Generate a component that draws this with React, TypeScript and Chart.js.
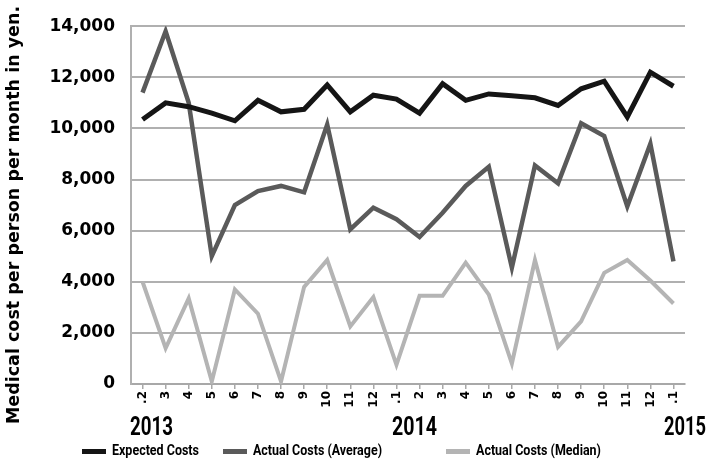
import { useEffect, useRef } from 'react';
import { Chart, registerables } from 'chart.js';
Chart.register(...registerables);

const monthLabels = ['.2', '3', '4', '5', '6', '7', '8', '9', '10', '11', '12', '.1', '2', '3', '4', '5', '6', '7', '8', '9', '10', '11', '12', '.1'];
const yearLabels = ['2013', '2014', '2015'];
const yTitle = 'Medical cost per person per month in yen.';
const seriesNames = ['Expected Costs', 'Actual Costs (Average)', 'Actual Costs (Median)'];
const seriesColors = ['#151515', '#5a5a5a', '#b4b4b4'];

const expectedCosts = [10350, 11000, 10850, 10600, 10300, 11100, 10650, 10750, 11700, 10650, 11300, 11150, 10600, 11750, 11100, 11350, 11280, 11200, 10900, 11550, 11850, 10450, 12200, 11650];
const actualAverage = [11400, 13800, 11000, 5000, 7000, 7550, 7750, 7500, 10150, 6050, 6900, 6450, 5750, 6700, 7750, 8500, 4550, 8550, 7850, 10200, 9700, 6950, 9400, 4800];
const actualMedian = [4000, 1400, 3350, 100, 3700, 2750, 100, 3800, 4850, 2250, 3400, 750, 3450, 3450, 4750, 3500, 800, 4850, 1450, 2450, 4350, 4850, 4050, 3150];

// draw text horizontally condensed to a target width
function narrowText(ctx: any, text: string, x: number, y: number, width: number, align: 'left' | 'center' | 'right') {
  const w = ctx.measureText(text).width;
  const s = Math.min(1, width / w);
  ctx.save();
  ctx.translate(x, y);
  ctx.scale(s, 1);
  ctx.textAlign = align;
  ctx.fillText(text, 0, 0);
  ctx.restore();
}

const overlay = {
  id: 'overlay',
  afterDraw(chart: any) {
    const { ctx, chartArea } = chart;
    const x = chart.scales.x;
    // y title
    ctx.save();
    ctx.translate(14, 215);
    ctx.rotate(-Math.PI / 2);
    ctx.font = 'bold 17.5px "DejaVu Sans"';
    ctx.textAlign = 'center';
    ctx.textBaseline = 'middle';
    ctx.fillStyle = '#000';
    ctx.fillText(yTitle, 0, 0);
    ctx.restore();
    // year labels
    ctx.save();
    ctx.font = 'bold 25px Roboto';
    ctx.fillStyle = '#000';
    ctx.textBaseline = 'alphabetic';
    narrowText(ctx, yearLabels[0], chartArea.left - 1, 435, 43, 'left');
    narrowText(ctx, yearLabels[1], x.getPixelForValue(12) - 5, 435, 45, 'center');
    narrowText(ctx, yearLabels[2], chartArea.right, 435, 42, 'center');
    ctx.restore();
    // legend
    ctx.save();
    const starts = [82, 223, 446];
    const textWidths = [87, 129, 125];
    ctx.font = 'bold 14.5px Roboto';
    ctx.textBaseline = 'middle';
    chart.data.datasets.forEach((ds: any, i: number) => {
      ctx.fillStyle = ds.borderColor;
      ctx.fillRect(starts[i], 449, 24, 5);
      ctx.fillStyle = '#000';
      narrowText(ctx, ds.label, starts[i] + 30, 451, textWidths[i], 'left');
    });
    ctx.restore();
  },
};

export default function App() {
  const ref = useRef<HTMLCanvasElement>(null);
  useEffect(() => {
    document.body.style.margin = '0';
    const canvas = ref.current!;
    const data = [expectedCosts, actualAverage, actualMedian];
    const widths = [5, 4.5, 4];
    const chart = new Chart(canvas, {
      type: 'line',
      data: {
        labels: monthLabels,
        datasets: data.map((d, i) => ({
          label: seriesNames[i],
          data: d,
          borderColor: seriesColors[i],
          backgroundColor: seriesColors[i],
          borderWidth: widths[i],
          pointRadius: 0,
          tension: 0,
          fill: false,
          borderJoinStyle: 'miter' as const,
        })),
      },
      options: {
        responsive: false,
        animation: false,
        devicePixelRatio: 1,
        layout: { padding: { top: 18, right: 24, left: 0, bottom: 0 } },
        plugins: { legend: { display: false }, tooltip: { enabled: false } },
        scales: {
          x: {
            type: 'category',
            offset: true,
            grid: { display: true, drawOnChartArea: false, drawTicks: true, tickLength: 5, color: '#a8a8a8', lineWidth: 1.5 },
            border: { display: true, color: '#a8a8a8', width: 2 },
            ticks: {
              minRotation: 90,
              maxRotation: 90,
              autoSkip: false,
              padding: 2,
              color: '#000',
              font: { family: 'DejaVu Sans', weight: 'bold', size: 12 },
            },
            afterFit: (s: any) => { s.height = 79; },
          },
          y: {
            min: 0,
            max: 14000,
            ticks: {
              stepSize: 2000,
              padding: 16,
              color: '#000',
              font: { family: 'DejaVu Sans', weight: 'bold', size: 17 },
              callback: (v: any) => Number(v).toLocaleString('en-US'),
            },
            grid: { color: '#b0b0b0', lineWidth: 2, drawTicks: false },
            border: { display: true, color: '#b0b0b0', width: 2 },
            afterFit: (s: any) => { s.width = 131; },
          },
        },
      },
      plugins: [overlay],
    });
    return () => chart.destroy();
  }, []);
  return (
    <div style={{ width: 709, height: 463 }}>
      <canvas ref={ref} width={709} height={463} style={{ display: 'block' }} />
    </div>
  );
}
